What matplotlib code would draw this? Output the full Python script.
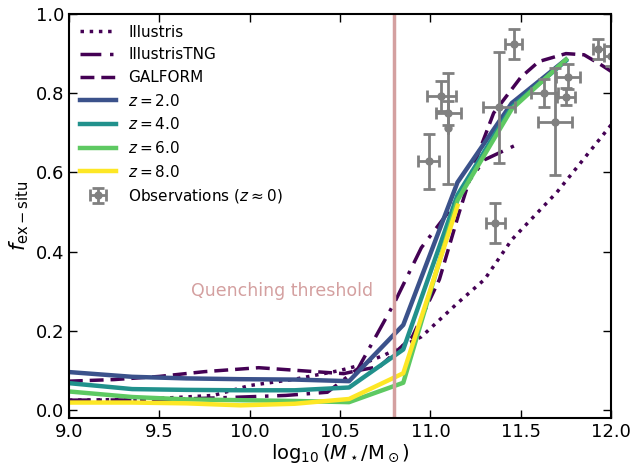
import numpy as np
import matplotlib
matplotlib.use('Agg')
from matplotlib import pyplot as plt

######################## data ########################
mass_sim = [9.0, 9.35, 9.65, 9.95, 10.25, 10.55, 10.85, 11.15, 11.45, 11.75]
fex_z2 = [0.096, 0.084, 0.080, 0.078, 0.077, 0.073, 0.215, 0.575, 0.775, 0.885]
fex_z4 = [0.068, 0.053, 0.051, 0.050, 0.050, 0.057, 0.153, 0.543, 0.765, 0.882]
fex_z6 = [0.047, 0.033, 0.027, 0.025, 0.023, 0.020, 0.069, 0.530, 0.760, 0.885]
mass_z8 = [9.0, 9.35, 9.65, 9.95, 10.25, 10.55, 10.85, 11.15]
fex_z8 = [0.019, 0.019, 0.017, 0.012, 0.016, 0.028, 0.093, 0.516]

mass_ill = [9.0, 9.4, 9.8, 10.0, 10.25, 10.5, 10.6, 10.75, 10.95, 11.15, 11.3, 11.45, 11.7, 11.85, 12.0]
fex_ill = [0.025, 0.027, 0.037, 0.062, 0.078, 0.10, 0.112, 0.14, 0.185, 0.27, 0.33, 0.43, 0.55, 0.635, 0.72]

mass_tng = [9.0, 9.5, 9.9, 10.2, 10.43, 10.6, 10.8, 10.95, 11.1, 11.2, 11.3, 11.5]
fex_tng = [0.025, 0.026, 0.032, 0.037, 0.045, 0.105, 0.27, 0.41, 0.50, 0.57, 0.632, 0.675]

mass_gal = [9.0, 9.25, 9.5, 9.75, 10.05, 10.33, 10.52, 10.6, 10.72, 10.9, 11.05, 11.16,
            11.25, 11.35, 11.5, 11.6, 11.75, 11.85, 11.95, 12.05]
fex_gal = [0.073, 0.077, 0.085, 0.097, 0.107, 0.098, 0.092, 0.10, 0.11, 0.185, 0.33, 0.50,
           0.63, 0.75, 0.84, 0.88, 0.90, 0.897, 0.87, 0.84]

obs_mass = [10.99, 11.06, 11.10, 11.10, 11.38, 11.46, 11.36, 11.63, 11.69, 11.76, 11.75, 11.93, 12.0]
obs_fex = [0.628, 0.793, 0.750, 0.712, 0.764, 0.924, 0.472, 0.800, 0.728, 0.842, 0.791, 0.911, 0.893]
obs_xerr = [0.06, 0.08, 0.07, 0.0, 0.09, 0.045, 0.055, 0.075, 0.095, 0.065, 0.05, 0.03, 0.04]
obs_yerr = [0.07, 0.037, 0.03, 0.14, 0.14, 0.038, 0.05, 0.035, 0.135, 0.032, 0.021, 0.025, 0.025]

quench_mass = 10.8
##########################################################################

fig = plt.figure(figsize=(6.32, 4.66), dpi=100)
ax = fig.add_axes([0.109, 0.103, 0.858, 0.867])

purple = '#440154'
ax.plot(mass_ill, fex_ill, ls=':', color=purple, lw=2.5, label='Illustris')
ax.plot(mass_tng, fex_tng, ls=(0, (6, 2.5, 1, 2.5)), color=purple, lw=2.5, label='IllustrisTNG')
ax.plot(mass_gal, fex_gal, ls=(0, (4, 2)), color=purple, lw=2.5, label='GALFORM')

ax.plot(mass_sim, fex_z2, color='#3b528b', lw=3.2, label=r'$z=2.0$')
ax.plot(mass_sim, fex_z4, color='#21918c', lw=3.2, label=r'$z=4.0$')
ax.plot(mass_sim, fex_z6, color='#5ec962', lw=3.2, label=r'$z=6.0$')
ax.plot(mass_z8, fex_z8, color='#fde725', lw=3.2, label=r'$z=8.0$')

ax.errorbar(obs_mass, obs_fex, xerr=obs_xerr, yerr=obs_yerr, fmt='o', color='grey',
            ms=5, elinewidth=2, capsize=4, capthick=2, label=r'Observations ($z\approx0$)')

qcol = '#d4a0a0'
ax.axvline(quench_mass, color=qcol, lw=2.5)
ax.text(10.18, 0.3, 'Quenching threshold', color=qcol, fontsize=12.5, ha='center', va='center')

ax.set_xlim(9.0, 12.0)
ax.set_ylim(-0.02, 1.0)
ax.set_xticks([9.0, 9.5, 10.0, 10.5, 11.0, 11.5, 12.0])
ax.set_yticks([0.0, 0.2, 0.4, 0.6, 0.8, 1.0])
ax.tick_params(direction='in', top=True, right=True, length=6, width=1, labelsize=13)
for sp in ax.spines.values():
    sp.set_linewidth(1.5)

ax.set_xlabel(r'$\log_{10}(M_\star/{\rm M}_\odot)$', fontsize=14, labelpad=1)
ax.set_ylabel(r'$f_{\rm ex-situ}$', fontsize=15, labelpad=3)

ax.legend(loc='upper left', frameon=False, fontsize=11, handlelength=2.4, labelspacing=0.5,
          borderaxespad=0.3)

plt.savefig('out.png', dpi=100)
